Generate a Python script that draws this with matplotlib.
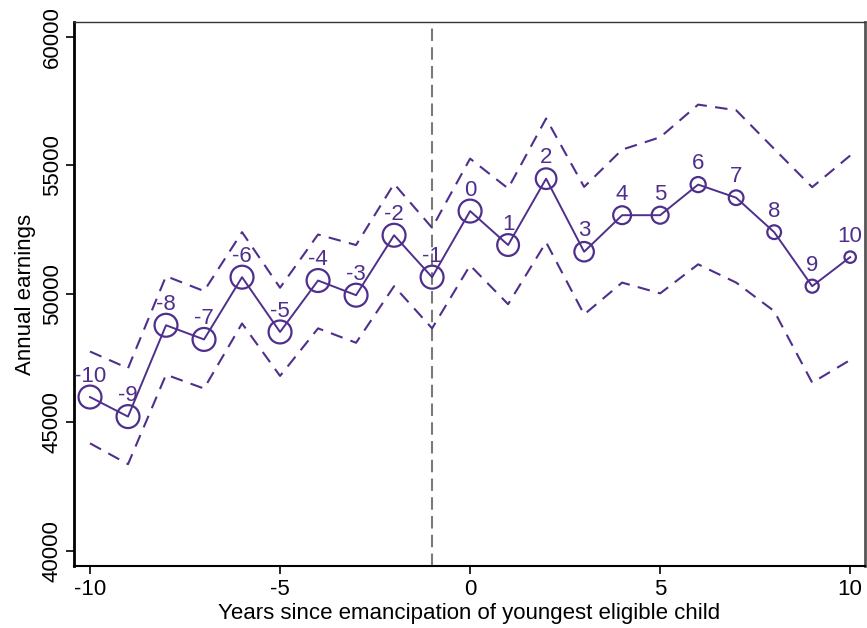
import numpy as np
import matplotlib.pyplot as plt

plt.rcParams["font.family"] = ["Liberation Sans", "DejaVu Sans"]
plt.rcParams["axes.unicode_minus"] = False

# event time
years = list(range(-10, 11))

# point estimates of annual earnings
earnings = [45990, 45230, 48780, 48230, 50650, 48520, 50520, 49950, 52280, 50650,
            53220, 51900, 54480, 51640, 53060, 53060, 54250, 53740, 52400, 50300, 51430]

# confidence band
upper = [47760, 47110, 50690, 50110, 52400, 50240, 52310, 51900, 54280, 52570,
         55260, 54100, 56820, 54160, 55610, 56090, 57360, 57140, 55640, 54150, 55380]
lower = [44190, 43380, 46860, 46320, 48850, 46810, 48660, 48100, 50300, 48660,
         51110, 49600, 52010, 49200, 50440, 50020, 51150, 50440, 49330, 46550, 47430]

# relative cell weight (drives marker size)
weight = [1.0, 1.0, 1.0, 1.0, 1.0, 1.0, 1.0, 1.0, 1.0, 1.0,
          1.0, 0.95, 0.9, 0.85, 0.78, 0.74, 0.66, 0.64, 0.6, 0.57, 0.5]

purple = "#4f2f8c"

fig = plt.figure(figsize=(8.67, 6.28), dpi=100)
ax = fig.add_axes([0.0854, 0.0987, 0.9123, 0.8662])

ax.plot(years, upper, color=purple, lw=1.5, linestyle=(0, (6, 4)))
ax.plot(years, lower, color=purple, lw=1.5, linestyle=(0, (6, 4)))
ax.plot(years, earnings, color=purple, lw=1.4, zorder=3)

diam_pt = 16.5 * np.array(weight)
ax.scatter(years, earnings, s=diam_pt ** 2, facecolors="none", edgecolors=purple,
           linewidths=1.6, zorder=4)

for x, y in zip(years, earnings):
    ax.annotate(str(x), (x, y), xytext=(0, 15), textcoords="offset points",
                ha="center", va="center", color=purple, fontsize=16)

ax.axvline(-1, color="#7a7a7a", lw=1.5, linestyle=(0, (6, 3)), zorder=1)

ax.set_xlim(-10.42, 10.39)
ax.set_ylim(39420, 60570)
ax.set_xticks([-10, -5, 0, 5, 10])
ax.set_yticks([40000, 45000, 50000, 55000, 60000])
ax.tick_params(axis="both", labelsize=16, direction="out", length=6, width=1.2)
ax.tick_params(axis="y", pad=2)
for lab in ax.get_yticklabels():
    lab.set_rotation(90)
    lab.set_va("center")

ax.set_xlabel("Years since emancipation of youngest eligible child", fontsize=16, labelpad=2)
ax.set_ylabel("Annual earnings", fontsize=16, labelpad=4)

ax.spines["left"].set_linewidth(2)
ax.spines["bottom"].set_linewidth(1.5)
ax.spines["top"].set_linewidth(1)
ax.spines["top"].set_color("#333333")
ax.spines["right"].set_linewidth(2)
ax.spines["right"].set_color("#555555")

fig.savefig("out.png", dpi=100)
